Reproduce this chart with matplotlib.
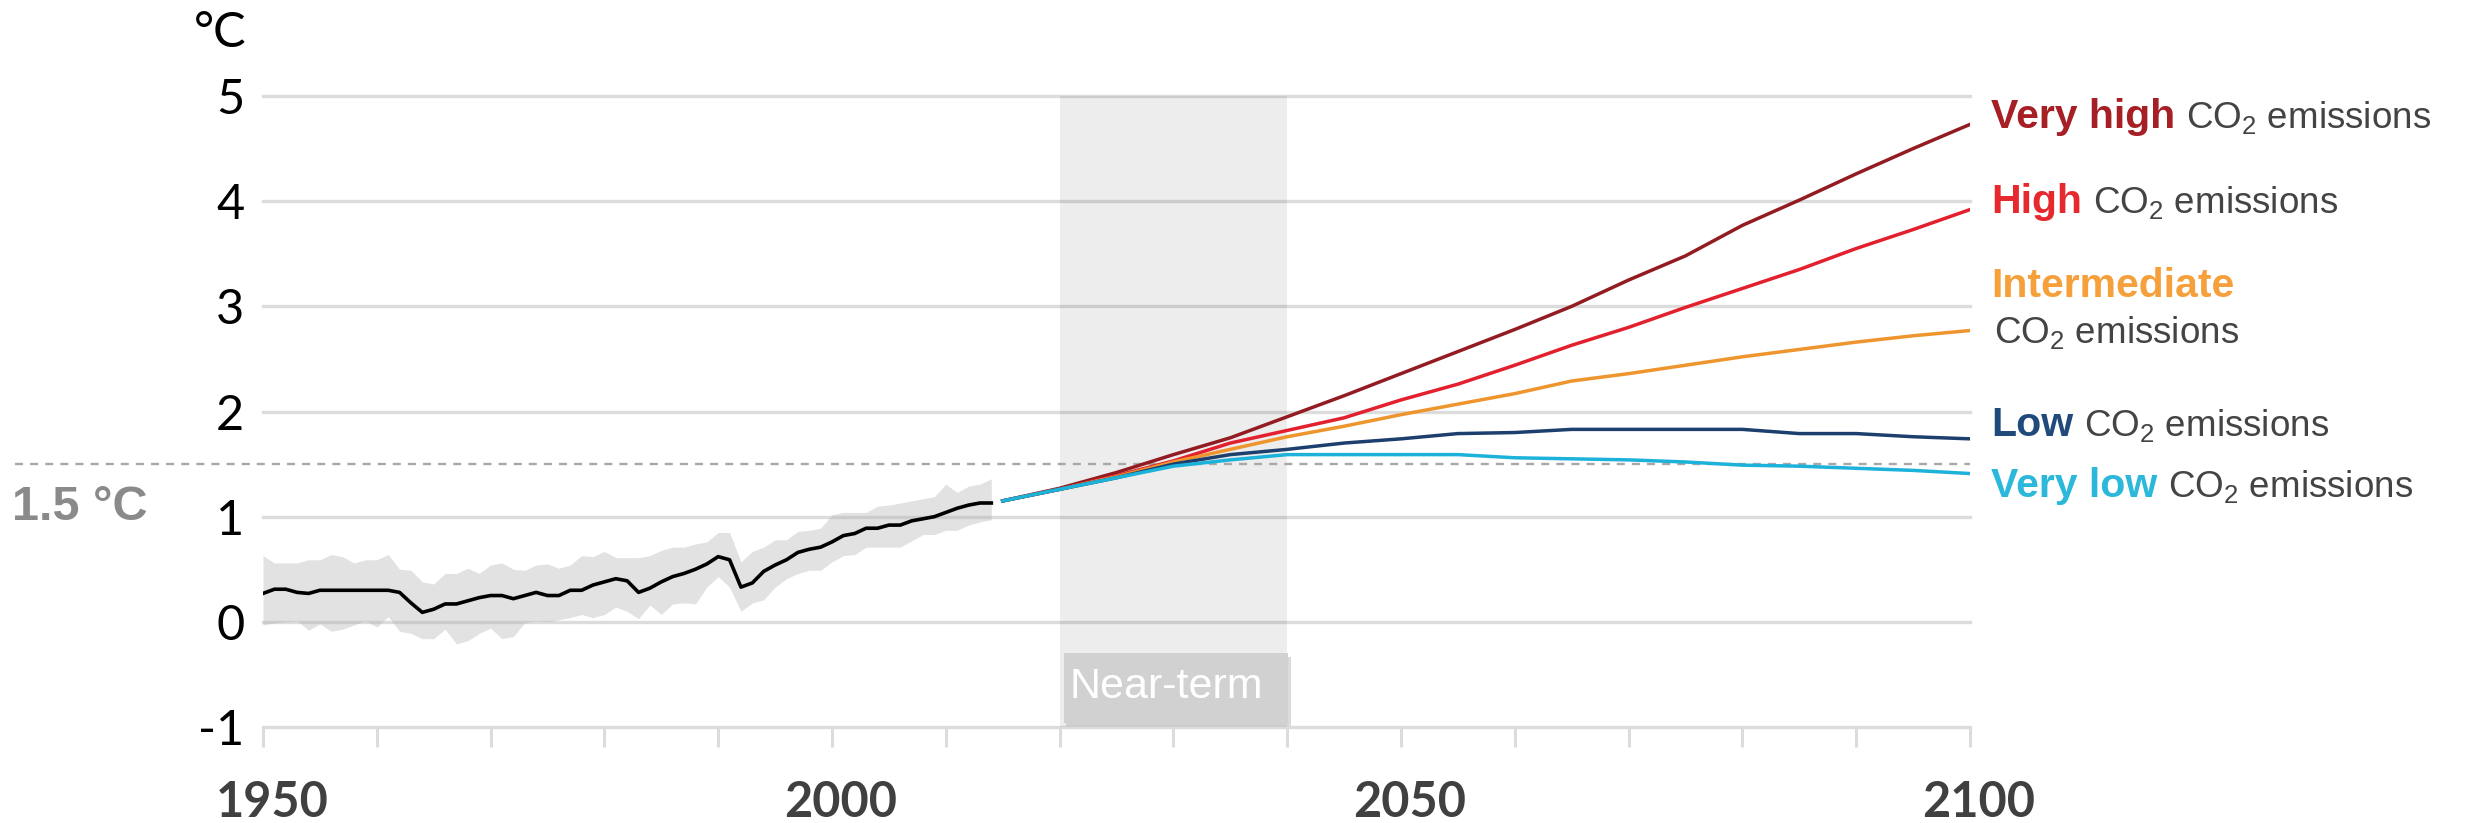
import numpy as np
import matplotlib
matplotlib.use("Agg")
import matplotlib.pyplot as plt
from matplotlib.transforms import blended_transform_factory, ScaledTranslation
from matplotlib.patches import Rectangle

plt.rcParams['mathtext.fontset'] = 'custom'
plt.rcParams['mathtext.rm'] = 'Liberation Sans'
plt.rcParams['mathtext.it'] = 'Liberation Sans:italic'
plt.rcParams['mathtext.bf'] = 'Liberation Sans:bold'

#-----------------
# observed warming (°C), 1950-2014, with uncertainty band
hist_years = np.arange(1950, 2015)
hist_mean = [0.27, 0.31, 0.31, 0.28, 0.27, 0.30, 0.30, 0.30, 0.30, 0.30,
             0.30, 0.30, 0.28, 0.18, 0.09, 0.12, 0.17, 0.17, 0.20, 0.23,
             0.25, 0.25, 0.22, 0.25, 0.28, 0.25, 0.25, 0.30, 0.30, 0.35,
             0.38, 0.41, 0.39, 0.28, 0.32, 0.38, 0.43, 0.46, 0.50, 0.55,
             0.62, 0.59, 0.33, 0.37, 0.48, 0.54, 0.59, 0.66, 0.69, 0.71,
             0.76, 0.82, 0.84, 0.89, 0.89, 0.92, 0.92, 0.96, 0.98, 1.00,
             1.04, 1.08, 1.11, 1.13, 1.13]
hist_high = [0.63, 0.56, 0.56, 0.56, 0.59, 0.59, 0.64, 0.62, 0.56, 0.59,
             0.59, 0.64, 0.50, 0.49, 0.38, 0.36, 0.46, 0.46, 0.51, 0.46,
             0.54, 0.56, 0.50, 0.49, 0.54, 0.55, 0.51, 0.54, 0.63, 0.62,
             0.67, 0.61, 0.61, 0.61, 0.63, 0.68, 0.71, 0.71, 0.74, 0.76,
             0.85, 0.85, 0.57, 0.67, 0.71, 0.78, 0.78, 0.86, 0.87, 0.89,
             1.02, 1.04, 1.04, 1.04, 1.10, 1.11, 1.13, 1.15, 1.17, 1.19,
             1.31, 1.23, 1.29, 1.31, 1.36]
hist_low = [-0.03, -0.01, 0.00, 0.01, -0.08, -0.02, -0.09, -0.07, -0.03, 0.01,
            -0.05, 0.05, -0.09, -0.11, -0.16, -0.16, -0.07, -0.21, -0.18, -0.11,
            -0.06, -0.16, -0.14, -0.01, 0.01, 0.00, 0.02, 0.04, 0.07, 0.04,
            0.07, 0.14, 0.10, 0.03, 0.16, 0.07, 0.17, 0.18, 0.17, 0.33,
            0.43, 0.33, 0.10, 0.18, 0.21, 0.33, 0.41, 0.46, 0.49, 0.49,
            0.57, 0.63, 0.64, 0.71, 0.71, 0.71, 0.71, 0.77, 0.83, 0.83,
            0.87, 0.87, 0.92, 0.95, 0.97]

#-----------------
# projected warming (°C) per emissions scenario
scen_years = [2015, 2020, 2025, 2030, 2035, 2040, 2045, 2050, 2055,
              2060, 2065, 2070, 2075, 2080, 2085, 2090, 2095, 2100]
very_high = [1.15, 1.27, 1.42, 1.59, 1.75, 1.95, 2.15, 2.36, 2.57,
             2.78, 3.00, 3.25, 3.48, 3.77, 4.01, 4.26, 4.50, 4.73]
high = [1.15, 1.26, 1.39, 1.53, 1.70, 1.82, 1.94, 2.11, 2.26,
        2.44, 2.63, 2.80, 2.99, 3.17, 3.35, 3.55, 3.73, 3.92]
intermediate = [1.15, 1.26, 1.38, 1.52, 1.64, 1.76, 1.86, 1.97, 2.07,
                2.17, 2.29, 2.36, 2.44, 2.52, 2.59, 2.66, 2.72, 2.77]
low = [1.15, 1.26, 1.37, 1.50, 1.59, 1.64, 1.70, 1.74, 1.79,
       1.80, 1.83, 1.83, 1.83, 1.83, 1.79, 1.79, 1.76, 1.74]
very_low = [1.15, 1.26, 1.37, 1.48, 1.54, 1.59, 1.59, 1.59, 1.59,
            1.56, 1.55, 1.54, 1.52, 1.49, 1.48, 1.46, 1.44, 1.41]

scen_names = ["Very high", "High", "Intermediate", "Low", "Very low"]
scen_values = [very_high, high, intermediate, low, very_low]
line_colors = ["#921c22", "#e2202e", "#ee952e", "#1d3f6e", "#1cb2d9"]
label_colors = ["#a51f24", "#e6282f", "#f6a03b", "#1f4a7a", "#2bb8da"]

y_ticks = [-1, 0, 1, 2, 3, 4, 5]
y_ticklabels = ["-1", "0", "1", "2", "3", "4", "5"]
x_ticks = list(range(1950, 2101, 10))
x_labels = [1950, 2000, 2050, 2100]
near_term = (2020, 2040)
threshold = 1.5

W, H = 2468, 823
fig = plt.figure(figsize=(W / 100, H / 100), dpi=100)
ax = fig.add_axes([263 / W, 96 / H, 1707 / W, 631 / H])
ax.set_xlim(1950, 2100)
ax.set_ylim(-1, 5)
for s in ax.spines.values():
    s.set_visible(False)

# horizontal grid, bottom one doubles as the x axis
for v in y_ticks:
    ax.axhline(v, color="#dcdcdc", lw=2.4, zorder=1, clip_on=False)

ax.set_xticks(x_ticks)
ax.set_xticklabels([])
ax.tick_params(axis="x", direction="out", length=14.5, width=2.2, color="#dcdcdc")
ax.set_yticks(y_ticks)
ax.set_yticklabels(y_ticklabels, fontfamily="Lato", fontsize=35, color="black")
ax.tick_params(axis="y", length=0, pad=13.5)

# near-term window
ax.axvspan(near_term[0], near_term[1], color="black", alpha=0.07, lw=0, zorder=2)

# historical band and mean
ax.fill_between(hist_years, hist_low, hist_high, color="#b0b0b0", alpha=0.36, lw=0, zorder=2)
ax.plot(hist_years, hist_mean, color="black", lw=2.6, zorder=4)

# 1.5 °C reference
ax.plot([-0.1453, 1.0], [threshold, threshold], transform=ax.get_yaxis_transform(),
        color="#a8a8a8", lw=1.7, ls=(0, (3.4, 3.0)), clip_on=False, zorder=2.5)
fig.text(12 / W, (H - 520) / H, "1.5 °C", fontfamily="Liberation Sans", fontweight="bold",
         fontsize=35, color="#8a8a8a", ha="left", va="baseline")

for vals, c in zip(scen_values, line_colors):
    ax.plot(scen_years, vals, color=c, lw=2.5, zorder=3)

# near-term tag on the axis
box_x0, box_x1 = near_term[0] + 0.35, near_term[1] + 0.1
ax.add_patch(Rectangle((box_x0 + 0.2, -0.99), box_x1 - box_x0, 0.66,
                       color="#9a9a9a", alpha=0.35, lw=0, zorder=4))
ax.add_patch(Rectangle((box_x0, -0.96), box_x1 - box_x0, 0.66,
                       color="#d1d1d1", lw=0, zorder=5))
ax.text(near_term[0] + 0.9, -0.72, "Near-term", fontfamily="Liberation Sans",
        fontsize=31, color="white", ha="left", va="baseline", zorder=6)

# year labels, nudged a little right of their ticks
tr = blended_transform_factory(ax.transData, fig.transFigure) + \
    ScaledTranslation(0.09, 0, fig.dpi_scale_trans)
for yr in x_labels:
    ax.text(yr, 6 / H, str(yr), transform=tr, fontfamily="Lato", fontweight="bold",
            fontsize=35, color="#404040", ha="center", va="baseline")

fig.text(246 / W, (H - 47) / H, "°C", fontfamily="Lato", fontsize=35,
         color="black", ha="right", va="baseline")

# scenario labels on the right
renderer = fig.canvas.get_renderer()
rest = "CO$_2$ emissions"
label_base = [128, 213, 297, 436, 497]
for name, col, base in zip(scen_names, label_colors, label_base):
    t = fig.text(1991 / W, (H - base) / H, name, fontfamily="Liberation Sans",
                 fontweight="bold", fontsize=29.5, color=col, ha="left", va="baseline")
    if name == "Intermediate":
        fig.text(1994 / W, (H - 343) / H, rest, fontfamily="Liberation Sans",
                 fontsize=26.5, color="#444444", ha="left", va="baseline")
    else:
        bb = t.get_window_extent(renderer)
        fig.text((bb.x1 + 11) / W, (H - base) / H, rest, fontfamily="Liberation Sans",
                 fontsize=26.5, color="#444444", ha="left", va="baseline")

fig.savefig("out.png", dpi=100, facecolor="white")
